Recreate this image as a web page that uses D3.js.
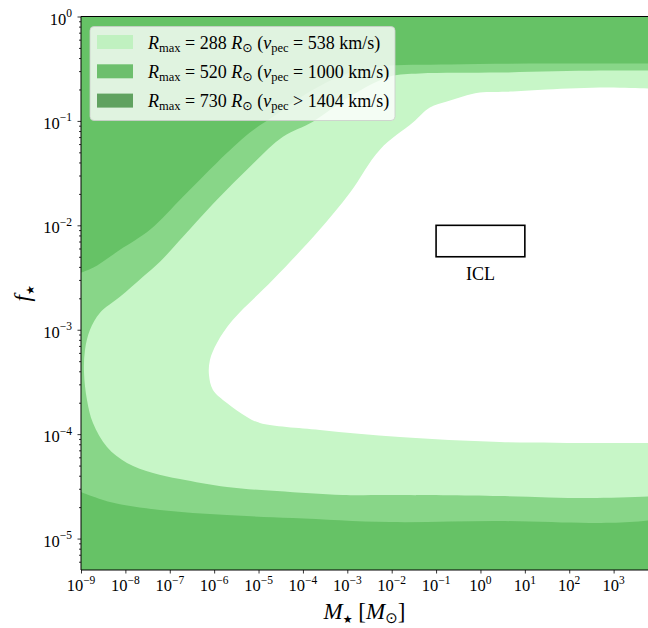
<!DOCTYPE html>
<html>
<head>
<meta charset="utf-8">
<script src="https://cdn.jsdelivr.net/npm/d3@7"></script>
<style>
  body { margin: 0; background: #fff; }
  svg { display: block; }
  text { font-family: "Liberation Serif", "DejaVu Serif", serif; fill: #000; }
</style>
</head>
<body>
<svg width="648" height="628"></svg>
<script>
// tick exponents
const xTickExp = [-9, -8, -7, -6, -5, -4, -3, -2, -1, 0, 1, 2, 3];
const yTickExp = [-5, -4, -3, -2, -1, 0];

// contour boundaries, as [log10 M, log10 f]
// outer edge of the 520 band (dark / medium), upper part, left to right
const darkTop = [[-9, -2.454], [-8.73, -2.407], [-8.347, -2.301], [-8.122, -2.234], [-7.446, -2.042],
  [-6.703, -1.726], [-5.937, -1.400], [-5.194, -1.112], [-4.631, -0.949], [-3.842, -0.719],
  [-3.054, -0.556], [-2.266, -0.479], [-0.69, -0.460], [1.563, -0.451], [3.77, -0.451], [4.04, -0.451]];
// lower part, left to right
const darkBottom = [[-9, -4.554], [-8.347, -4.650], [-7.221, -4.727], [-5.712, -4.775], [-4.225, -4.803],
  [-2.041, -4.842], [0.437, -4.832], [2.464, -4.851], [3.365, -4.842], [4.04, -4.813]];
// edge of the 288 band (medium / light), from top right round the left to bottom right
const lightEdge = [[4.04, -0.518], [2.689, -0.518], [0.437, -0.537], [-1.365, -0.546], [-2.041, -0.575],
  [-2.941, -0.767], [-3.775, -1.007], [-4.45, -1.151], [-5.194, -1.438], [-5.937, -1.755],
  [-6.703, -2.109], [-7.221, -2.349], [-7.604, -2.493], [-8.122, -2.685], [-8.572, -2.838],
  [-8.797, -3.001], [-8.91, -3.193], [-8.932, -3.413], [-8.865, -3.672], [-8.73, -3.893],
  [-8.414, -4.123], [-7.964, -4.276], [-7.378, -4.372], [-6.77, -4.43], [-5.712, -4.506],
  [-4.586, -4.545], [-3.099, -4.583], [-2.041, -4.583], [0.437, -4.593], [2.464, -4.612], [4.04, -4.593]];
// edge of the allowed (white) region
const whiteEdge = [[4.04, -0.690], [3.77, -0.690], [2.847, -0.681], [1.495, -0.700], [0.730, -0.719],
  [-0.014, -0.729], [-0.396, -0.767], [-0.757, -0.815], [-1.14, -0.872], [-1.523, -1.016],
  [-2.266, -1.275], [-2.941, -1.687], [-3.685, -2.071], [-4.676, -2.522],
  [-5.577, -2.905], [-5.937, -3.126], [-6.095, -3.289], [-6.117, -3.432], [-6.027, -3.576],
  [-5.712, -3.701], [-5.261, -3.835], [-4.968, -3.893], [-3.617, -3.960], [-1.815, -4.027],
  [0.437, -4.075], [2.689, -4.084], [4.04, -4.084]];

// ICL box: M from 0.1 to 10, f from 5e-3 to 1e-2
const iclM = [0.1, 10];
const iclF = [5e-3, 1e-2];

const legendR = ["288", "520", "730"];
const legendV = ["538", "1000", "1404"];
const legendRel = ["=", "=", ">"];
const legendColors = ["#c0f1c0", "#6dbf6d", "#60a260"];

const colDark = "#66c266", colMid = "#88d688", colLight = "#c7f6c7";

const svg = d3.select("svg");
const pLeft = 81, pRight = 658, pTop = 16.5, pBottom = 570;

const x = d3.scaleLog().domain([1e-9, 1e4]).range([pLeft, pRight]);
const y = d3.scaleLog().domain([5e-6, 1]).range([pBottom, pTop]);

const toVal = p => [Math.pow(10, p[0]), Math.pow(10, p[1])];
const line = d3.line()
  .x(d => x(d[0]))
  .y(d => y(d[1]))
  .curve(d3.curveCatmullRom.alpha(0.5));

svg.append("clipPath").attr("id", "plotclip")
  .append("rect").attr("x", pLeft).attr("y", pTop).attr("width", pRight - pLeft).attr("height", pBottom - pTop);

const g = svg.append("g").attr("clip-path", "url(#plotclip)");

g.append("rect").attr("x", pLeft).attr("y", pTop).attr("width", pRight - pLeft).attr("height", pBottom - pTop)
  .attr("fill", colDark);

var midPath = line(darkTop.map(toVal)) + line(darkBottom.slice().reverse().map(toVal)).replace(/^M/, "L") + "Z";
g.append("path").attr("d", midPath).attr("fill", colMid);
g.append("path").attr("d", line(lightEdge.map(toVal)) + "Z").attr("fill", colLight);
g.append("path").attr("d", line(whiteEdge.map(toVal)) + "Z").attr("fill", "#fff");

// ICL
svg.append("rect")
  .attr("x", x(iclM[0])).attr("y", y(iclF[1]))
  .attr("width", x(iclM[1]) - x(iclM[0])).attr("height", y(iclF[0]) - y(iclF[1]))
  .attr("fill", "none").attr("stroke", "#000").attr("stroke-width", 1.6);
svg.append("text")
  .attr("x", (x(iclM[0]) + x(iclM[1])) / 2).attr("y", y(iclF[0]) + 23)
  .attr("text-anchor", "middle").attr("font-size", 18).text("ICL");

// axes
const xAxis = d3.axisBottom(x).tickValues(xTickExp.map(e => Math.pow(10, e)))
  .tickFormat("").tickSize(3.5).tickSizeOuter(0);
svg.append("g").attr("transform", `translate(0,${pBottom})`).call(xAxis)
  .call(a => a.select(".domain").remove());

var yMinor = [];
for (var e = -6; e < 0; e++) for (var k = 2; k <= 9; k++) {
  var v = k * Math.pow(10, e);
  if (v >= 5e-6 && v <= 1) yMinor.push(v);
}
svg.append("g").attr("transform", `translate(${pLeft},0)`)
  .call(d3.axisLeft(y).tickValues(yTickExp.map(e => Math.pow(10, e))).tickFormat("").tickSize(3.5).tickSizeOuter(0))
  .call(a => a.select(".domain").remove());
svg.append("g").attr("transform", `translate(${pLeft},0)`)
  .call(d3.axisLeft(y).tickValues(yMinor).tickFormat("").tickSize(2).tickSizeOuter(0))
  .call(a => a.select(".domain").remove());

svg.selectAll(".tick line").attr("stroke", "#000").attr("stroke-width", 0.8);

// spines
svg.append("line").attr("x1", pLeft).attr("x2", pLeft).attr("y1", pTop).attr("y2", pBottom).attr("stroke", "#000");
svg.append("line").attr("x1", pLeft).attr("x2", pRight).attr("y1", pTop).attr("y2", pTop).attr("stroke", "#000");
svg.append("line").attr("x1", pLeft).attr("x2", pRight).attr("y1", pBottom).attr("y2", pBottom).attr("stroke", "#000");

// tick labels
xTickExp.forEach(function(e) {
  var t = svg.append("text").attr("x", x(Math.pow(10, e))).attr("y", pBottom + 21)
    .attr("text-anchor", "middle").attr("font-size", 16.5);
  t.append("tspan").text("10");
  t.append("tspan").attr("dy", -7.5).attr("font-size", 11.5).text(e < 0 ? "\u2212" + (-e) : e);
});
yTickExp.forEach(function(e) {
  var t = svg.append("text").attr("x", pLeft - 9).attr("y", y(Math.pow(10, e)) + 8)
    .attr("text-anchor", "end").attr("font-size", 16.5);
  t.append("tspan").text("10");
  t.append("tspan").attr("dy", -7.5).attr("font-size", 11.5).text(e < 0 ? "\u2212" + (-e) : e);
});

// axis labels
var xl = svg.append("text").attr("x", (pLeft + 648) / 2).attr("y", 619)
  .attr("text-anchor", "middle").attr("font-size", 23);
xl.append("tspan").attr("font-style", "italic").text("M");
xl.append("tspan").attr("font-size", 11).attr("dy", 4).attr("font-family", "DejaVu Sans").text("\u2605");
xl.append("tspan").attr("dy", -4).text(" [");
xl.append("tspan").attr("font-style", "italic").text("M");
xl.append("tspan").attr("font-size", 15).attr("dy", 4).attr("font-family", "DejaVu Sans").text("\u2299");
xl.append("tspan").attr("dy", -4).text("]");

var yl = svg.append("text").attr("transform", `translate(30,${(pTop + pBottom) / 2}) rotate(-90)`)
  .attr("text-anchor", "middle").attr("font-size", 23);
yl.append("tspan").attr("font-style", "italic").text("f");
yl.append("tspan").attr("font-size", 11).attr("dy", 4).attr("font-family", "DejaVu Sans").text("\u2605");

// legend
const lg = svg.append("g");
lg.append("rect").attr("x", 90).attr("y", 26.5).attr("width", 305).attr("height", 94).attr("rx", 4)
  .attr("fill", "#fff").attr("fill-opacity", 0.8).attr("stroke", "#ccc").attr("stroke-opacity", 0.8);
legendR.forEach(function(r, i) {
  var cy = 42 + i * 29.3;
  lg.append("rect").attr("x", 97).attr("y", cy - 7).attr("width", 36).attr("height", 14)
    .attr("fill", legendColors[i]);
  var t = lg.append("text").attr("x", 148).attr("y", cy + 6.5).attr("font-size", 18);
  t.append("tspan").attr("font-style", "italic").text("R");
  t.append("tspan").attr("font-size", 12.5).attr("dy", 3).text("max");
  t.append("tspan").attr("dy", -3).text(" = " + r + " ");
  t.append("tspan").attr("font-style", "italic").text("R");
  t.append("tspan").attr("font-size", 12.5).attr("dy", 3).attr("font-family", "DejaVu Sans").text("\u2299");
  t.append("tspan").attr("dy", -3).text(" (");
  t.append("tspan").attr("font-style", "italic").text("v");
  t.append("tspan").attr("font-size", 12.5).attr("dy", 3).text("pec");
  t.append("tspan").attr("dy", -3).text(" " + legendRel[i] + " " + legendV[i] + " km/s)");
});
</script>
</body>
</html>
